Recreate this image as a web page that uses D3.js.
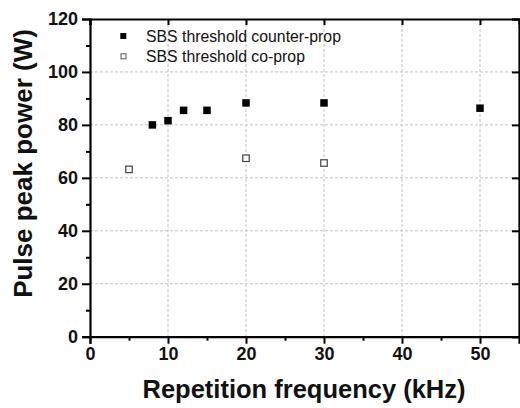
<!DOCTYPE html>
<html>
<head>
<meta charset="utf-8">
<script src="https://cdn.jsdelivr.net/npm/d3@7"></script>
<style>
  body { margin: 0; background: #fff; }
  svg text { font-family: "Liberation Sans", Arial, sans-serif; }
</style>
</head>
<body>
<div id="chart"></div>
<script>
// data
var counterFreq = [8, 10, 12, 15, 20, 30, 50];
var counterPower = [80, 81.6, 85.5, 85.5, 88.3, 88.3, 86.3];
var coFreq = [5, 20, 30];
var coPower = [63.2, 67.4, 65.6];
var xTicks = [0, 10, 20, 30, 40, 50];
var xMinor = [5, 15, 25, 35, 45];
var yTicks = [0, 20, 40, 60, 80, 100, 120];
var yMinor = [10, 30, 50, 70, 90, 110];
var legendLabels = ["SBS threshold counter-prop", "SBS threshold co-prop"];

var W = 520, H = 408;
var pLeft = 90, pRight = 519, pTop = 19, pBottom = 336.7;

var x = d3.scaleLinear().domain([0, 55]).range([pLeft, pRight]);
var y = d3.scaleLinear().domain([0, 120]).range([pBottom, pTop]);

var svg = d3.select("#chart").append("svg")
  .attr("width", W).attr("height", H);

// dashed grid
svg.append("g").selectAll("line")
  .data(xTicks.filter(function(d){ return d > 0; }))
  .enter().append("line")
  .attr("x1", function(d){ return x(d); }).attr("x2", function(d){ return x(d); })
  .attr("y1", pTop).attr("y2", pBottom)
  .attr("stroke", "#c4c4c4").attr("stroke-width", 1).attr("stroke-dasharray", "3,2");
svg.append("g").selectAll("line")
  .data(yTicks.filter(function(d){ return d > 0 && d < 120; }))
  .enter().append("line")
  .attr("y1", function(d){ return y(d); }).attr("y2", function(d){ return y(d); })
  .attr("x1", pLeft).attr("x2", pRight)
  .attr("stroke", "#c4c4c4").attr("stroke-width", 1).attr("stroke-dasharray", "3,2");

// bottom axis
var xAxis = svg.append("g")
  .attr("transform", "translate(0," + pBottom + ")")
  .call(d3.axisBottom(x).tickValues(xTicks).tickSize(7).tickPadding(4).tickFormat(d3.format("d")));
xAxis.select(".domain").attr("stroke-width", 2.2);
xAxis.selectAll(".tick line").attr("stroke-width", 2);
xAxis.selectAll("text").attr("font-size", 18).attr("font-weight", "bold").attr("fill", "#111");
svg.append("g").attr("transform", "translate(0," + pBottom + ")")
  .call(d3.axisBottom(x).tickValues(xMinor).tickSize(4).tickFormat(""))
  .call(function(g){ g.select(".domain").remove(); g.selectAll("line").attr("stroke-width", 2); });

// left axis
var yAxis = svg.append("g")
  .attr("transform", "translate(" + pLeft + ",0)")
  .call(d3.axisLeft(y).tickValues(yTicks).tickSize(8).tickPadding(4));
yAxis.select(".domain").attr("stroke-width", 2.2);
yAxis.selectAll(".tick line").attr("stroke-width", 2);
yAxis.selectAll("text").attr("font-size", 18).attr("font-weight", "bold").attr("fill", "#111");
svg.append("g").attr("transform", "translate(" + pLeft + ",0)")
  .call(d3.axisLeft(y).tickValues(yMinor).tickSize(4).tickFormat(""))
  .call(function(g){ g.select(".domain").remove(); g.selectAll("line").attr("stroke-width", 2); });

// top and right frame, ticks inward
svg.append("g").attr("transform", "translate(0," + pTop + ")")
  .call(d3.axisBottom(x).tickValues(xTicks).tickSize(6).tickFormat(""))
  .call(function(g){ g.select(".domain").attr("stroke-width", 2.2); g.selectAll("line").attr("stroke-width", 2); });
svg.append("g").attr("transform", "translate(" + pRight + ",0)")
  .call(d3.axisLeft(y).tickValues(yTicks).tickSize(7).tickFormat(""))
  .call(function(g){ g.select(".domain").attr("stroke-width", 2.2); g.selectAll("line").attr("stroke-width", 2); });

// markers
var ms = 7.5;
svg.append("g").selectAll("rect")
  .data(counterFreq).enter().append("rect")
  .attr("x", function(d){ return x(d) - ms / 2; })
  .attr("y", function(d, i){ return y(counterPower[i]) - ms / 2; })
  .attr("width", ms).attr("height", ms)
  .attr("fill", "#000");
svg.append("g").selectAll("rect")
  .data(coFreq).enter().append("rect")
  .attr("x", function(d){ return x(d) - ms / 2 + 0.5; })
  .attr("y", function(d, i){ return y(coPower[i]) - ms / 2 + 0.5; })
  .attr("width", ms - 1).attr("height", ms - 1)
  .attr("fill", "#fff").attr("stroke", "#444").attr("stroke-width", 1.2);

// legend
var lg = svg.append("g");
var ls = 6;
lg.append("rect").attr("x", 123.3 - ls / 2).attr("y", 36 - ls / 2)
  .attr("width", ls).attr("height", ls).attr("fill", "#000");
lg.append("rect").attr("x", 123.5 - ls / 2 + 0.5).attr("y", 56.3 - ls / 2 + 0.5)
  .attr("width", ls - 1).attr("height", ls - 1)
  .attr("fill", "#fff").attr("stroke", "#555").attr("stroke-width", 1);
lg.selectAll("text").data(legendLabels).enter().append("text")
  .attr("x", 146).attr("y", function(d, i){ return 41.5 + i * 20.3; })
  .attr("font-size", 15.8).attr("fill", "#111")
  .text(function(d){ return d; });

// axis titles
svg.append("text")
  .attr("x", 304).attr("y", 398)
  .attr("text-anchor", "middle").attr("font-size", 25.5).attr("font-weight", "bold")
  .attr("fill", "#111")
  .text("Repetition frequency (kHz)");
svg.append("text")
  .attr("transform", "translate(32,163.5) rotate(-90)")
  .attr("text-anchor", "middle").attr("font-size", 26).attr("font-weight", "bold")
  .attr("fill", "#111")
  .text("Pulse peak power (W)");
</script>
</body>
</html>
